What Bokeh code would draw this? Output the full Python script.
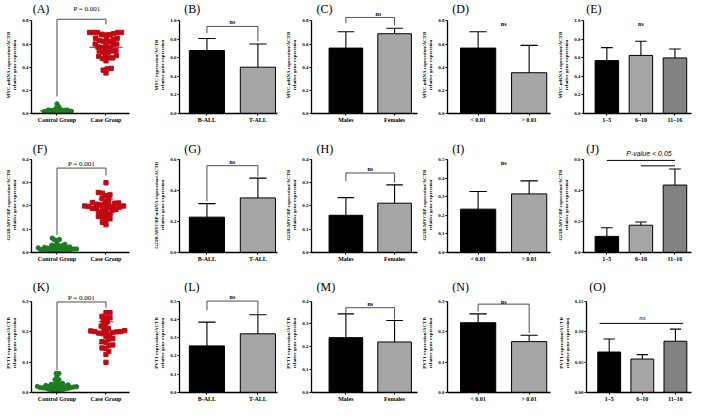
from bokeh.plotting import figure
from bokeh.layouts import column, row
from bokeh.models import Range1d, FixedTicker, NumeralTickFormatter
from bokeh.core.properties import value
from bokeh.embed import file_html
from bokeh.resources import INLINE

# ---------------- data ----------------
GROUP_CATS = ["Control Group", "Case Group"]
LINEAGE_CATS = ["B-ALL", "T-ALL"]
SEX_CATS = ["Males", "Females"]
MRD_CATS = ["< 0.01", "> 0.01"]
AGE_CATS = ["1–5", "6–10", "11–16"]

MYC_LABEL = "MYC mRNA expression/ACTB"
MYC_LABEL_B = "MYC expression/ACTB"
MYCBP_LABEL = "G21B-MYCBP expression/ACTB"
MYCBP_LABEL_G = "G21B-MYCBP mRNA expression/ACTB"
PVT1_LABEL = "PVT1 expression/ACTB"
SECOND_LINE = "relative gene expression"

# (A) MYC: control vs case (scatter dots)
A_control = [0.083, 0.060, 0.052, 0.040, 0.038, 0.035, 0.033, 0.030, 0.030, 0.028,
             0.027, 0.025, 0.025, 0.024, 0.023, 0.022, 0.021, 0.020, 0.020, 0.019,
             0.018, 0.018, 0.017, 0.016, 0.015, 0.015, 0.014, 0.013, 0.012, 0.012,
             0.011, 0.010, 0.010, 0.009, 0.008, 0.007, 0.006, 0.005]
A_case = [0.700, 0.700, 0.700, 0.700, 0.698, 0.690, 0.685, 0.680, 0.678, 0.650,
          0.650, 0.645, 0.640, 0.630, 0.625, 0.620, 0.600, 0.600, 0.600, 0.595,
          0.575, 0.570, 0.570, 0.565, 0.545, 0.540, 0.540, 0.530, 0.525, 0.500,
          0.500, 0.495, 0.480, 0.480, 0.475, 0.455, 0.390, 0.385, 0.375, 0.350]
A_mean = [0.022, 0.572]
A_sd = [0.014, 0.090]
A_ticks = [0.0, 0.2, 0.4, 0.6, 0.8]

B_mean = [0.680, 0.500]
B_err = [0.130, 0.250]
B_ticks = [0.0, 0.2, 0.4, 0.6, 0.8, 1.0]

C_mean = [0.565, 0.689]
C_err = [0.141, 0.047]
C_ticks = [0.0, 0.2, 0.4, 0.6, 0.8]

D_mean = [0.565, 0.352]
D_err = [0.141, 0.236]
D_ticks = [0.0, 0.2, 0.4, 0.6, 0.8]

E_mean = [0.571, 0.627, 0.600]
E_err = [0.140, 0.153, 0.097]
E_ticks = [0.0, 0.2, 0.4, 0.6, 0.8, 1.0]

# (F) G21B-MYCBP: control vs case
F_control = [0.062, 0.056, 0.055, 0.052, 0.040, 0.035, 0.032, 0.030, 0.028, 0.027,
             0.025, 0.024, 0.022, 0.021, 0.020, 0.020, 0.019, 0.018, 0.018, 0.017,
             0.016, 0.015, 0.015, 0.014, 0.013, 0.013, 0.012, 0.011, 0.010, 0.010,
             0.009, 0.008, 0.007, 0.006, 0.005, 0.004]
F_case = [0.300, 0.258, 0.255, 0.248, 0.245, 0.232, 0.230, 0.220, 0.215, 0.213,
          0.212, 0.210, 0.208, 0.205, 0.203, 0.200, 0.200, 0.198, 0.197, 0.195,
          0.193, 0.190, 0.190, 0.188, 0.185, 0.180, 0.178, 0.175, 0.170, 0.165,
          0.160, 0.155, 0.150, 0.145, 0.140, 0.130, 0.120]
F_mean = [0.019, 0.196]
F_sd = [0.012, 0.034]
F_ticks = [0.0, 0.1, 0.2, 0.3, 0.4]

G_mean = [0.228, 0.352]
G_err = [0.087, 0.128]
G_ticks = [0.0, 0.2, 0.4, 0.6]

H_mean = [0.160, 0.212]
H_err = [0.076, 0.079]
H_ticks = [0.0, 0.1, 0.2, 0.3, 0.4]

I_mean = [0.233, 0.315]
I_err = [0.095, 0.070]
I_ticks = [0.0, 0.1, 0.2, 0.3, 0.4, 0.5]

J_mean = [0.104, 0.176, 0.435]
J_err = [0.056, 0.021, 0.104]
J_ticks = [0.0, 0.2, 0.4, 0.6]

# (K) PVT1: control vs case
K_control = [0.0625, 0.0625, 0.054, 0.042, 0.042, 0.036, 0.030, 0.027, 0.026, 0.025,
             0.024, 0.023, 0.022, 0.021, 0.020, 0.020, 0.019, 0.019, 0.018, 0.018,
             0.017, 0.016, 0.016, 0.015, 0.015, 0.014, 0.014, 0.013, 0.012, 0.011,
             0.010, 0.009, 0.008, 0.006, 0.004]
K_case = [0.262, 0.262, 0.250, 0.245, 0.245, 0.234, 0.232, 0.220, 0.218, 0.210,
          0.208, 0.203, 0.202, 0.200, 0.200, 0.199, 0.198, 0.197, 0.195, 0.193,
          0.1875, 0.185, 0.177, 0.175, 0.167, 0.165, 0.156, 0.155, 0.146, 0.145,
          0.135, 0.125, 0.099]
K_mean = [0.019, 0.196]
K_sd = [0.013, 0.036]
K_ticks = [0.0, 0.1, 0.2, 0.3]

L_mean = [0.255, 0.321]
L_err = [0.130, 0.104]
L_ticks = [0.0, 0.1, 0.2, 0.3, 0.4, 0.5]

M_mean = [0.240, 0.221]
M_err = [0.104, 0.094]
M_ticks = [0.0, 0.1, 0.2, 0.3, 0.4]

N_mean = [0.229, 0.167]
N_err = [0.029, 0.021]
N_ticks = [0.0, 0.1, 0.2, 0.3]

O_mean = [0.0664, 0.0549, 0.0841]
O_err = [0.0215, 0.0072, 0.0199]
O_ticks = [0.00, 0.05, 0.10, 0.15]

# ---------------- styles / layout ----------------
SERIF = "Liberation Serif"
SANS = "Liberation Sans"
RED = "#C00A14"
GREEN = "#1E7D22"
BAR2 = ["#000000", "#A6A6A6"]
BAR3 = ["#000000", "#A6A6A6", "#828282"]

SX = 693 / 709
SY = 404 / 420
COL_EDGES = [0, 146, 290, 429, 568, 709]
FRAME_X = [(32, 132), (183, 283), (316, 427), (452, 563), (596, 707)]
CENTERS = [[58, 108], [211, 263], [352, 403], [485, 540], [620, 655, 690]]
ROW_EDGES = [0, 140, 280, 420]
HEADER_BOTTOM = [17, 163, 305]
FRAME_BOTTOM = [117.3, 261.7, 408.3]
AXIS_TOP = [21, 165, 312.3]
LABEL_X = [2, 153, 296, 435, 571]
LABEL_Y = [9, 154, 298]
BAR_W = 0.69
CAP = 0.17


def X(v):
    return int(round(v * SX))


def Y(v):
    return int(round(v * SY))


def swarm(vals, dpx, xppu, yppu, step=0.4):
    idx = sorted(range(len(vals)), key=lambda i: vals[i])
    placed = []
    offs = [0.0] * len(vals)
    flip = 1
    for i in idx:
        y = vals[i] * yppu
        k = 0
        chosen = None
        while chosen is None:
            cands = [0.0] if k == 0 else [flip * k * step, -flip * k * step]
            for cx in cands:
                if all((cx - px) ** 2 + (y - py) ** 2 >= dpx * dpx for px, py in placed):
                    chosen = cx
                    break
            k += 1
        flip = -flip
        placed.append((chosen, y))
        offs[i] = chosen / xppu
    return offs


def blank(fig):
    fig.outline_line_color = None
    fig.background_fill_color = "white"
    fig.border_fill_color = "white"


def draw_text(fig, tx, ty, txt, kind):
    if kind == "p":
        font, size, style = SERIF, "7px", "normal"
    elif kind == "ns":
        font, size, style = SERIF, "6px", "bold"
    elif kind == "nsi":
        font, size, style = SERIF, "7px", "italic"
    elif kind == "tag":
        font, size, style = SERIF, "12px", "normal"
    else:
        font, size, style = SANS, "7px", "italic"
    fig.text(x=[tx], y=[ty], text=[txt], text_font=value(font), text_font_size=value(size),
             text_font_style=style, text_align="left" if kind == "tag" else "center",
             text_baseline="middle", text_color="black")


def make_panel(spec):
    r, c = spec["r"], spec["c"]
    left, right = X(COL_EDGES[c]), X(COL_EDGES[c + 1])
    W = right - left
    fl, fr = FRAME_X[c]
    mbl = X(fl) - left
    mbr = right - X(fr)
    fw = W - mbl - mbr

    top = Y(ROW_EDGES[r])
    hb = Y(HEADER_BOTTOM[r])
    bottom = Y(ROW_EDGES[r + 1])
    fbp = Y(FRAME_BOTTOM[r])
    Hh = hb - top
    Hm = bottom - hb
    mbb = bottom - fbp
    fh = Hm - mbb

    cats = spec["cats"]
    n = len(cats)
    cen = CENTERS[c]
    ppu = cen[1] - cen[0]
    xs = -(cen[0] - fl) / ppu
    xe = (n - 1) + (fr - cen[-1]) / ppu
    ticks = spec["ticks"]
    span = (FRAME_BOTTOM[r] - AXIS_TOP[r]) * SY
    ye = ticks[-1] * fh / span
    xppu = fw / (xe - xs)
    yppu = fh / ye

    # ---- main plot ----
    p = figure(width=W, height=Hm, x_range=Range1d(xs, xe), y_range=Range1d(0, ye),
               output_backend="svg", toolbar_location=None,
               min_border_left=mbl, min_border_right=mbr,
               min_border_top=0, min_border_bottom=mbb)
    blank(p)
    p.xgrid.visible = False
    p.ygrid.visible = False

    for ax in (p.xaxis[0], p.yaxis[0]):
        ax.axis_line_color = "black"
        ax.axis_line_width = 1.3
        ax.major_tick_line_color = "black"
        ax.major_tick_line_width = 1.1
        ax.major_tick_in = 0
        ax.major_tick_out = 2
        ax.minor_tick_line_color = None
        ax.major_label_text_font = SERIF
        ax.major_label_text_font_style = "bold"
        ax.major_label_text_color = "black"
    p.yaxis.bounds = (0, ticks[-1])
    p.yaxis.ticker = FixedTicker(ticks=ticks)
    p.yaxis.formatter = NumeralTickFormatter(format=spec["fmt"])
    p.yaxis.major_label_text_font_size = "5px"
    p.yaxis.major_label_standoff = 1
    p.yaxis.axis_label = spec["ylabel"] + "\n" + SECOND_LINE
    p.yaxis.axis_label_text_font = SERIF
    p.yaxis.axis_label_text_font_size = "5px"
    p.yaxis.axis_label_text_font_style = "bold"
    p.yaxis.axis_label_text_color = "black"
    p.yaxis.axis_label_standoff = 2
    xt = list(range(n))
    p.xaxis.ticker = FixedTicker(ticks=xt)
    p.xaxis.major_label_overrides = {i: cats[i] for i in xt}
    p.xaxis.major_label_text_font_size = "6px"
    p.xaxis.major_label_standoff = 1

    if spec["kind"] == "dots":
        groups = spec["groups"]
        styles = [("circle", GREEN, spec["spread"]), ("square", RED, 4.0)]
        for gi, vals in enumerate(groups):
            marker, col, d = styles[gi]
            offs = swarm(vals, d, xppu, yppu)
            p.scatter(x=[gi + o for o in offs], y=vals, marker=marker, size=4.3,
                      fill_color=col, line_color=col)
        for gi in range(len(groups)):
            col = styles[gi][1]
            m, s = spec["mean"][gi], spec["sd"][gi]
            p.segment(x0=[gi - 0.34], y0=[m], x1=[gi + 0.34], y1=[m], line_color=col, line_width=1.2)
            p.segment(x0=[gi, gi - 0.15, gi - 0.15], y0=[m - s, m + s, m - s],
                      x1=[gi, gi + 0.15, gi + 0.15], y1=[m + s, m + s, m - s],
                      line_color=col, line_width=1.0)
    else:
        means, errs = spec["mean"], spec["err"]
        colors = BAR2 if n == 2 else BAR3
        p.vbar(x=xt, top=means, width=BAR_W, fill_color=colors, line_color="black", line_width=1)
        tops = [m + e for m, e in zip(means, errs)]
        p.segment(x0=xt, y0=means, x1=xt, y1=tops, line_color="black", line_width=1.1)
        p.segment(x0=[x - CAP for x in xt], y0=tops, x1=[x + CAP for x in xt], y1=tops,
                  line_color="black", line_width=1.1)

    for (x0, x1, yl, yt, yr) in spec.get("brackets", []):
        p.line(x=[x0, x0, x1, x1], y=[yl, yt, yt, yr], line_color="#3a3a3a", line_width=0.9)
    for (x0, x1, yy) in spec.get("hlines", []):
        p.line(x=[x0, x1], y=[yy, yy], line_color="black", line_width=1.0)

    # ---- header strip (panel tag and texts above the plot frame) ----
    hx0 = xs - mbl / xppu
    hx1 = xe + mbr / xppu
    hy1 = ye + Hh / yppu
    h = figure(width=W, height=Hh, x_range=Range1d(hx0, hx1), y_range=Range1d(ye, hy1),
               output_backend="svg", toolbar_location=None,
               x_axis_type=None, y_axis_type=None,
               min_border_left=0, min_border_right=0, min_border_top=0, min_border_bottom=0)
    blank(h)
    h.xgrid.visible = False
    h.ygrid.visible = False

    for (tx, ty, txt, kind) in spec.get("texts", []):
        draw_text(h if ty > ye else p, tx, ty, txt, kind)

    lx = xs + (LABEL_X[c] - fl) * SX / xppu
    ly = (FRAME_BOTTOM[r] - LABEL_Y[r]) * SY / yppu
    draw_text(h, lx, ly, spec["tag"], "tag")
    return column(h, p)


panels = [
    dict(tag="(A)", r=0, c=0, kind="dots", cats=GROUP_CATS, groups=[A_control, A_case],
         mean=A_mean, sd=A_sd, ticks=A_ticks, fmt="0.0", ylabel=MYC_LABEL, spread=1.6,
         brackets=[(0, 1, 0.147, 0.814, 0.77)], texts=[(0.5, 0.905, "P = 0.001", "p")]),
    dict(tag="(B)", r=0, c=1, kind="bars", cats=LINEAGE_CATS, mean=B_mean, err=B_err,
         ticks=B_ticks, fmt="0.0", ylabel=MYC_LABEL_B,
         brackets=[(0, 1, 0.87, 0.94, 0.78)], texts=[(0.5, 0.99, "ns", "ns")]),
    dict(tag="(C)", r=0, c=2, kind="bars", cats=SEX_CATS, mean=C_mean, err=C_err,
         ticks=C_ticks, fmt="0.0", ylabel=MYC_LABEL,
         brackets=[(0, 1, 0.78, 0.83, 0.76)], texts=[(0.5, 0.862, "ns", "ns")]),
    dict(tag="(D)", r=0, c=3, kind="bars", cats=MRD_CATS, mean=D_mean, err=D_err,
         ticks=D_ticks, fmt="0.0", ylabel=MYC_LABEL, texts=[(0.5, 0.776, "ns", "ns")]),
    dict(tag="(E)", r=0, c=4, kind="bars", cats=AGE_CATS, mean=E_mean, err=E_err,
         ticks=E_ticks, fmt="0.0", ylabel=MYC_LABEL, texts=[(1, 0.965, "ns", "ns")]),
    dict(tag="(F)", r=1, c=0, kind="dots", cats=GROUP_CATS, groups=[F_control, F_case],
         mean=F_mean, sd=F_sd, ticks=F_ticks, fmt="0.0", ylabel=MYCBP_LABEL, spread=2.5,
         brackets=[(0, 1, 0.076, 0.363, 0.331)], texts=[(0.5, 0.38, "P = 0.001", "p")]),
    dict(tag="(G)", r=1, c=1, kind="bars", cats=LINEAGE_CATS, mean=G_mean, err=G_err,
         ticks=G_ticks, fmt="0.0", ylabel=MYCBP_LABEL_G,
         brackets=[(0, 1, 0.33, 0.56, 0.49)], texts=[(0.5, 0.585, "ns", "ns")]),
    dict(tag="(H)", r=1, c=2, kind="bars", cats=SEX_CATS, mean=H_mean, err=H_err,
         ticks=H_ticks, fmt="0.0", ylabel=MYCBP_LABEL,
         brackets=[(0, 1, 0.307, 0.342, 0.30)], texts=[(0.5, 0.359, "ns", "ns")]),
    dict(tag="(I)", r=1, c=3, kind="bars", cats=MRD_CATS, mean=I_mean, err=I_err,
         ticks=I_ticks, fmt="0.0", ylabel=MYCBP_LABEL, texts=[(0.5, 0.483, "ns", "ns")]),
    dict(tag="(J)", r=1, c=4, kind="bars", cats=AGE_CATS, mean=J_mean, err=J_err,
         ticks=J_ticks, fmt="0.0", ylabel=MYCBP_LABEL,
         hlines=[(0, 2, 0.594), (1, 2, 0.559)], texts=[(0.95, 0.64, "P-value < 0.05", "pv")]),
    dict(tag="(K)", r=2, c=0, kind="dots", cats=GROUP_CATS, groups=[K_control, K_case],
         mean=K_mean, sd=K_sd, ticks=K_ticks, fmt="0.0", ylabel=PVT1_LABEL, spread=2.7,
         brackets=[(0, 1, 0.073, 0.297, 0.278)], texts=[(0.5, 0.31, "P = 0.001", "p")]),
    dict(tag="(L)", r=2, c=1, kind="bars", cats=LINEAGE_CATS, mean=L_mean, err=L_err,
         ticks=L_ticks, fmt="0.0", ylabel=PVT1_LABEL,
         brackets=[(0, 1, 0.45, 0.50, 0.43)], texts=[(0.5, 0.52, "ns", "ns")]),
    dict(tag="(M)", r=2, c=2, kind="bars", cats=SEX_CATS, mean=M_mean, err=M_err,
         ticks=M_ticks, fmt="0.0", ylabel=PVT1_LABEL,
         brackets=[(0, 1, 0.347, 0.371, 0.32)], texts=[(0.5, 0.386, "ns", "ns")]),
    dict(tag="(N)", r=2, c=3, kind="bars", cats=MRD_CATS, mean=N_mean, err=N_err,
         ticks=N_ticks, fmt="0.0", ylabel=PVT1_LABEL,
         brackets=[(0, 1, 0.266, 0.290, 0.195)], texts=[(0.5, 0.297, "ns", "ns")]),
    dict(tag="(O)", r=2, c=4, kind="bars", cats=AGE_CATS, mean=O_mean, err=O_err,
         ticks=O_ticks, fmt="0.00", ylabel=PVT1_LABEL,
         hlines=[(-0.29, 2.23, 0.1134)], texts=[(1, 0.1225, "ns", "nsi")]),
]

cells = [make_panel(s) for s in panels]
rows = [row(*[cell for cell, s in zip(cells, panels) if s["r"] == r]) for r in range(3)]
layout = column(*rows)

open("out.html", "w").write(file_html(layout, INLINE))
